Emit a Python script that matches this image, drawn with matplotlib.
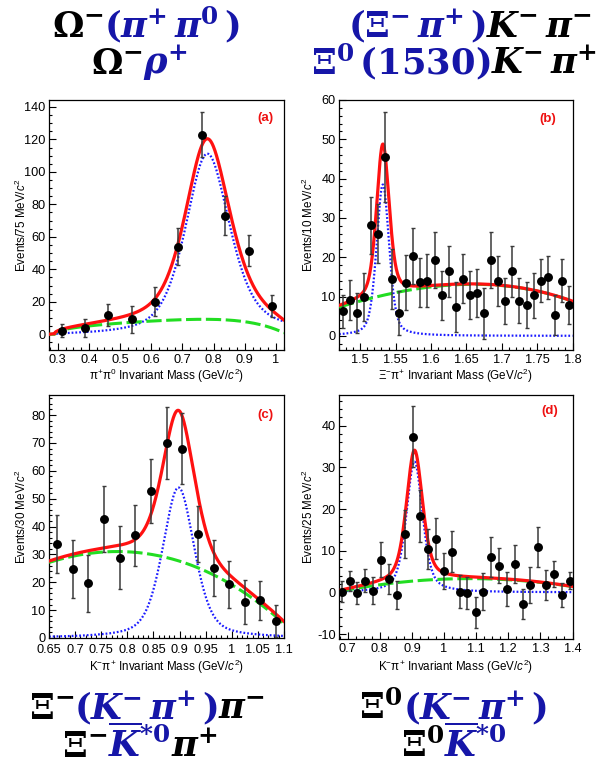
import numpy as np
import matplotlib
matplotlib.use("Agg")
import matplotlib.pyplot as plt
from matplotlib.ticker import MultipleLocator, FormatStrFormatter
from numpy.polynomial import polynomial as P

plt.rcParams["font.family"] = ["Liberation Sans", "DejaVu Sans"]
plt.rcParams["mathtext.fontset"] = "custom"
plt.rcParams["mathtext.rm"] = "Liberation Sans"
plt.rcParams["mathtext.it"] = "Liberation Sans:italic"
plt.rcParams["mathtext.bf"] = "Liberation Sans:bold"

# ---------------- data ----------------
# (a) pi+ pi0 invariant mass, 75 MeV bins
mass_a = [0.3125, 0.3875, 0.4625, 0.5375, 0.6125, 0.6875, 0.7625, 0.8375, 0.9125, 0.9875]
events_a = [2.2, 4.1, 11.9, 9.2, 20.0, 54.0, 123.0, 73.0, 51.5, 17.4]
err_a = [4.1, 5.6, 6.8, 8.5, 9.0, 11.5, 14.0, 12.0, 9.5, 6.5]

# (b) Xi- pi+ invariant mass, 10 MeV bins
mass_b = [1.475, 1.485, 1.495, 1.505, 1.515, 1.525, 1.535, 1.545, 1.555, 1.565, 1.575,
          1.585, 1.595, 1.605, 1.615, 1.625, 1.635, 1.645, 1.655, 1.665, 1.675, 1.685,
          1.695, 1.705, 1.715, 1.725, 1.735, 1.745, 1.755, 1.765, 1.775, 1.785, 1.795]
events_b = [6.3, 9.1, 5.8, 9.8, 28.1, 26.0, 45.5, 14.5, 5.8, 13.5, 20.4, 13.6, 14.0, 19.4,
            10.3, 16.4, 7.4, 14.5, 10.3, 10.9, 5.8, 19.4, 14.0, 8.9, 16.4, 8.9, 7.8, 10.3,
            14.0, 14.9, 5.3, 14.0, 7.8]
err_b = [4.2, 5.1, 5.0, 6.1, 7.2, 7.5, 11.5, 7.6, 5.7, 7.0, 7.1, 6.3, 6.7, 7.1, 6.3, 6.4,
         6.4, 6.2, 6.1, 6.1, 6.5, 7.1, 6.3, 5.8, 6.5, 5.7, 5.9, 5.8, 5.5, 5.4, 5.2, 5.5, 4.9]

# (c) K- pi+ invariant mass, 30 MeV bins
mass_c = [0.665, 0.695, 0.725, 0.755, 0.785, 0.815, 0.845, 0.875, 0.905, 0.935, 0.965,
          0.995, 1.025, 1.055, 1.085]
events_c = [33.7, 24.7, 19.6, 42.7, 28.8, 36.8, 52.7, 69.9, 67.9, 37.3, 25.0, 19.2, 12.9, 13.5, 6.2]
err_c = [10.3, 10.4, 10.3, 12.0, 11.3, 10.9, 11.6, 12.9, 12.8, 10.1, 10.0, 8.4, 7.8, 6.9, 5.8]

# (d) K- pi+ invariant mass, 25 MeV bins
mass_d = [0.681, 0.706, 0.730, 0.755, 0.779, 0.804, 0.828, 0.853, 0.877, 0.902, 0.926,
          0.951, 0.975, 1.000, 1.024, 1.049, 1.073, 1.098, 1.122, 1.147, 1.171, 1.196,
          1.220, 1.245, 1.269, 1.294, 1.318, 1.343, 1.367, 1.392]
events_d = [0.2, 2.8, -0.2, 2.8, 0.4, 7.8, 3.2, -0.7, 14.0, 37.4, 18.4, 10.4, 12.9, 5.2, 9.8,
            0.2, -0.2, -4.8, 0.2, 8.4, 6.4, 0.8, 6.8, -2.8, 1.8, 10.8, 1.7, 4.4, -0.7, 2.8]
err_d = [2.6, 2.4, 2.7, 2.7, 3.2, 4.2, 3.6, 3.4, 5.7, 7.3, 6.2, 4.8, 5.0, 4.3, 4.9, 4.0,
         3.8, 3.8, 4.4, 4.8, 4.2, 4.1, 4.5, 3.6, 4.4, 4.8, 3.6, 3.2, 2.9, 2.0]

# fitted resonance shapes: height, mass, FWHM, Lorentzian fraction
signal_a = [111.0, 0.776, 0.17, 0.55]
signal_b = [38.5, 1.532, 0.021, 0.40]
signal_c = [54.0, 0.898, 0.072, 0.45]
signal_d = [31.4, 0.908, 0.060, 0.50]
rho_threshold = [0.275, 0.5]           # threshold position and power for the rho

# fitted backgrounds
bkg_a = [12.1, 0.29, 1.035, 0.45, 6]    # scale, low edge, high edge, rise power, fall power
bkg_b = [13.0, 1.55, -4.95, -0.80]      # cubic in (m - 1.635)/0.165
bkg_c = [31.0, 5.07, -234.9, -52.8]     # cubic in (m - 0.77)
bkg_d = [3.3, 0.0, -18.75]              # quadratic in (m - 1.08)

panel_tags = ["(a)", "(b)", "(c)", "(d)"]
y_titles = ["Events/75 MeV/$c^{2}$", "Events/10 MeV/$c^{2}$",
            "Events/30 MeV/$c^{2}$", "Events/25 MeV/$c^{2}$"]
x_titles = [r"$\mathrm{\pi^{+}\pi^{0}}$ Invariant Mass (GeV/$c^{2}$)",
            r"$\mathrm{\Xi^{-}\pi^{+}}$ Invariant Mass (GeV/$c^{2}$)",
            r"$\mathrm{K^{-}\pi^{+}}$ Invariant Mass (GeV/$c^{2}$)",
            r"$\mathrm{K^{-}\pi^{+}}$ Invariant Mass (GeV/$c^{2}$)"]


def pseudo_voigt(x, height, mass, fwhm, eta):
    hw = fwhm / 2.0
    lor = 1.0 / (1.0 + ((x - mass) / hw) ** 2)
    sig = fwhm / 2.3548
    gau = np.exp(-0.5 * ((x - mass) / sig) ** 2)
    return height * (eta * lor + (1 - eta) * gau)


def sig_a(x):
    lo, pw = rho_threshold
    thr = np.clip((x - lo) / (signal_a[1] - lo), 0, None) ** pw
    return pseudo_voigt(x, *signal_a) * thr


def bg_a(x):
    s, lo, hi, p, n = bkg_a
    u = np.clip((x - lo) / (hi - lo), 0, 1)
    return s * u ** p * (1 - u ** n)


def bg_b(x):
    return P.polyval((x - 1.635) / 0.165, bkg_b)


def bg_c(x):
    return P.polyval(x - 0.77, bkg_c)


def bg_d(x):
    return P.polyval(x - 1.08, bkg_d)


W, H = 615, 767
fig = plt.figure(figsize=(W / 100, H / 100), dpi=100)

panels = [
    dict(rect=[49, 100, 284, 350], x=mass_a, y=events_a, e=err_a,
         sig=sig_a, bg=bg_a, xlim=(0.272, 1.026), ylim=(-9.7, 144.3), xpad=3.0,
         xmaj=0.1, xmin=0.025, ymaj=20, ymin=5, tag=(0.919, 0.928), ylab=-0.116, xlab=-0.102),
    dict(rect=[339, 100, 572.5, 350], x=mass_b, y=events_b, e=err_b,
         sig=lambda x: pseudo_voigt(x, *signal_b), bg=bg_b, xlim=(1.47, 1.80), ylim=(-3.6, 60),
         xpad=3.0,
         xmaj=0.05, xmin=0.01, ymaj=10, ymin=2, tag=(0.892, 0.924), ylab=-0.131, xlab=-0.102),
    dict(rect=[49, 395, 284, 638], x=mass_c, y=events_c, e=err_c,
         sig=lambda x: pseudo_voigt(x, *signal_c), bg=bg_c, xlim=(0.65, 1.10), ylim=(0, 87.2),
         xpad=4.0,
         xmaj=0.05, xmin=0.01, ymaj=10, ymin=2, tag=(0.919, 0.918), ylab=-0.116, xlab=-0.117),
    dict(rect=[339, 395, 572.5, 639], x=mass_d, y=events_d, e=err_d,
         sig=lambda x: pseudo_voigt(x, *signal_d), bg=bg_d, xlim=(0.673, 1.40), ylim=(-11.2, 47.4),
         xpad=3.0,
         xmaj=0.1, xmin=0.025, ymaj=10, ymin=2, tag=(0.904, 0.936), ylab=-0.131, xlab=-0.114),
]

for i, p in enumerate(panels):
    l, t, r, b = p["rect"]
    ax = fig.add_axes([l / W, 1 - b / H, (r - l) / W, (b - t) / H])
    xs = np.linspace(p["xlim"][0], p["xlim"][1], 600)
    s = p["sig"](xs)
    g = p["bg"](xs)
    ax.plot(xs, s, color="#1a1aff", lw=1.6, ls=(0, (0.8, 0.9)), zorder=2)
    ax.plot(xs, g, color="#22dd22", lw=2.2, ls=(0, (5.0, 1.5)), zorder=3)
    ax.plot(xs, s + g, color="#ff1111", lw=2.3, zorder=4)
    ax.errorbar(p["x"], p["y"], yerr=p["e"], fmt="o", color="black", ms=5.4,
                ecolor="#3a3a3a", elinewidth=1.1, capsize=1.6, capthick=1.0, zorder=5)
    ax.set_xlim(*p["xlim"])
    ax.set_ylim(*p["ylim"])
    ax.xaxis.set_major_locator(MultipleLocator(p["xmaj"]))
    ax.xaxis.set_minor_locator(MultipleLocator(p["xmin"]))
    ax.yaxis.set_major_locator(MultipleLocator(p["ymaj"]))
    ax.yaxis.set_minor_locator(MultipleLocator(p["ymin"]))
    ax.xaxis.set_major_formatter(FormatStrFormatter("%g"))
    ax.yaxis.set_major_formatter(FormatStrFormatter("%g"))
    ax.tick_params(which="both", direction="in", top=False, right=False, width=0.8,
                   labelsize=9.2, colors="black")
    ax.tick_params(axis="x", which="both", pad=p["xpad"])
    ax.tick_params(axis="y", which="both", pad=2.5)
    ax.tick_params(which="major", length=5)
    ax.tick_params(which="minor", length=2.5)
    for sp in ax.spines.values():
        sp.set_linewidth(0.9)
    ax.set_xlabel(x_titles[i], fontsize=8.4)
    ax.set_ylabel(y_titles[i], fontsize=8.4)
    ax.xaxis.set_label_coords(0.5, p["xlab"])
    ax.xaxis.label.set_verticalalignment("center")
    ax.yaxis.set_label_coords(p["ylab"], 0.5)
    ax.yaxis.label.set_verticalalignment("center")
    ax.text(p["tag"][0], p["tag"][1], panel_tags[i], transform=ax.transAxes,
            ha="center", va="center", color="#ee1111", fontsize=9.5, fontweight="bold")

# ---------------- decay-mode headings ----------------
BLUE = "#1616a8"
BLACK = "black"


def bs(s):
    return r"\boldsymbol{%s}" % s


def sup(base, s):
    return bs(base) + "^{" + bs(s) + r"}\,"


KBAR = r"\overline{" + bs("K") + "}^{" + bs("*0") + r"}\,"


def heading(cx, base_y, parts, size=25.5):
    rend = fig.canvas.get_renderer()
    arts = []
    for s, col in parts:
        txt = fig.text(0, 1 - base_y / H, "$" + s + "$", color=col, fontsize=size,
                       math_fontfamily="dejavuserif", ha="left", va="baseline")
        arts.append(txt)
    widths = [a.get_window_extent(rend).width for a in arts]
    x = cx - sum(widths) / 2
    for a, w in zip(arts, widths):
        a.set_x(x / W)
        x += w


heading(146, 37, [(sup(r"\Omega", "-"), BLACK),
                  (bs("(") + sup(r"\pi", "+") + sup(r"\pi", "0") + bs(")"), BLUE)])
heading(139, 74, [(sup(r"\Omega", "-"), BLACK), (sup(r"\rho", "+"), BLUE)])
heading(470, 37, [(bs("(") + sup(r"\Xi", "-") + sup(r"\pi", "+") + bs(")"), BLUE),
                  (sup("K", "-") + sup(r"\pi", "-"), BLACK)])
heading(454, 74, [(sup(r"\Xi", "0") + bs("(1530)"), BLUE),
                  (sup("K", "-") + sup(r"\pi", "+"), BLACK)])
heading(147, 719, [(sup(r"\Xi", "-"), BLACK),
                   (bs("(") + sup("K", "-") + sup(r"\pi", "+") + bs(")") + r"\,", BLUE),
                   (sup(r"\pi", "-"), BLACK)])
heading(140, 757, [(sup(r"\Xi", "-"), BLACK),
                   (KBAR, BLUE),
                   (sup(r"\pi", "+"), BLACK)])
heading(453, 719, [(sup(r"\Xi", "0"), BLACK),
                   (bs("(") + sup("K", "-") + sup(r"\pi", "+") + bs(")"), BLUE)])
heading(454, 757, [(sup(r"\Xi", "0"), BLACK),
                   (KBAR, BLUE)])

fig.savefig("out.png", dpi=100)
